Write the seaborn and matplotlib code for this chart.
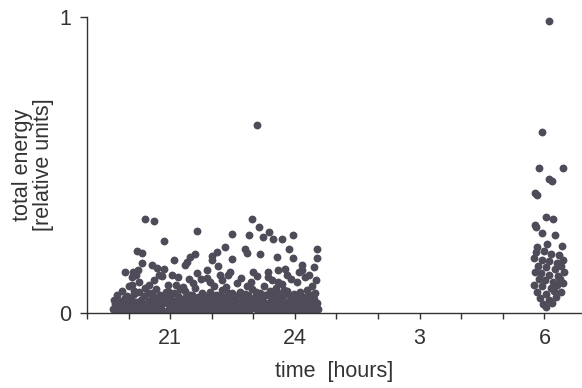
import matplotlib
matplotlib.use("Agg")
import matplotlib.pyplot as plt
import seaborn as sns
import pandas as pd
from matplotlib.ticker import FixedLocator, MultipleLocator

# --- data (time in hours, continuing past midnight: 27 = 3 h, 30 = 6 h) ---
evening_outlier_t = [20.39, 20.61, 20.85, 21.64, 22.97, 23.13, 23.38, 23.23, 23.47, 23.69,
                     23.95, 22.49, 22.89, 22.32, 22.80, 22.85, 22.13, 22.00, 22.00, 21.60,
                     21.48, 21.40, 21.36, 21.09, 20.20, 20.32, 20.32, 20.56, 20.68, 20.85,
                     19.91, 20.11, 20.23, 20.08, 20.08, 20.80, 21.88, 22.49, 23.16, 23.57,
                     23.86, 23.95, 24.17, 24.17, 24.53, 24.53, 23.59, 23.35, 22.39, 21.88,
                     23.09]
evening_outlier_e = [0.318, 0.311, 0.243, 0.277, 0.318, 0.291, 0.274, 0.257, 0.250, 0.250,
                     0.264, 0.267, 0.264, 0.223, 0.216, 0.203, 0.206, 0.193, 0.179, 0.199,
                     0.189, 0.172, 0.162, 0.179, 0.209, 0.203, 0.169, 0.162, 0.152, 0.149,
                     0.139, 0.139, 0.145, 0.122, 0.095, 0.125, 0.145, 0.182, 0.199, 0.189,
                     0.216, 0.186, 0.162, 0.145, 0.216, 0.186, 0.145, 0.139, 0.128, 0.118,
                     0.635]

evening_mid_t = [20.00, 20.25, 20.40, 20.60, 20.95, 21.20, 21.30, 21.55, 21.75, 22.05,
                 22.20, 22.60, 22.70, 22.95, 23.10, 23.25, 23.45, 23.70, 23.80, 24.05,
                 24.25, 24.40, 24.50, 21.05, 22.35, 23.60,
                 19.85, 20.18, 20.50, 20.72, 21.15, 21.45, 21.65, 21.95, 22.25, 22.45,
                 22.85, 23.00, 23.35, 23.55, 23.90, 24.10, 24.35, 24.45, 22.15, 23.75]
evening_mid_e = [0.090, 0.105, 0.085, 0.110, 0.095, 0.120, 0.088, 0.100, 0.115, 0.092,
                 0.130, 0.100, 0.118, 0.105, 0.125, 0.090, 0.110, 0.097, 0.128, 0.105,
                 0.120, 0.090, 0.110, 0.130, 0.087, 0.105,
                 0.075, 0.130, 0.095, 0.130, 0.095, 0.115, 0.135, 0.105, 0.110, 0.140,
                 0.090, 0.140, 0.120, 0.085, 0.115, 0.140, 0.130, 0.155, 0.160, 0.150]

evening_base_t = [19.62, 19.68, 19.71, 19.75, 19.80, 19.83, 19.88, 19.92, 19.95, 19.99,
                  20.03, 20.05, 20.09, 20.12, 20.15, 20.18, 20.22, 20.25, 20.28, 20.31,
                  20.35, 20.38, 20.41, 20.44, 20.47,
                  20.51, 20.54, 20.57, 20.60, 20.63, 20.66, 20.70, 20.73, 20.76, 20.79,
                  20.83, 20.86, 20.89, 20.93, 20.96,
                  21.00, 21.03, 21.06, 21.10, 21.13, 21.16, 21.19, 21.23, 21.26, 21.29,
                  21.33, 21.36, 21.40, 21.43, 21.47,
                  21.50, 21.53, 21.57, 21.60, 21.63, 21.67, 21.70, 21.73, 21.77, 21.80,
                  21.84, 21.87, 21.90, 21.94, 21.97,
                  22.01, 22.04, 22.07, 22.11, 22.14, 22.17, 22.21, 22.24, 22.27, 22.31,
                  22.34, 22.37, 22.41, 22.44, 22.48,
                  22.51, 22.54, 22.58, 22.61, 22.64, 22.68, 22.71, 22.74, 22.78, 22.81,
                  22.85, 22.88, 22.91, 22.95, 22.98,
                  23.02, 23.05, 23.08, 23.12, 23.15, 23.18, 23.22, 23.25, 23.28, 23.32,
                  23.35, 23.39, 23.42, 23.45, 23.49,
                  23.52, 23.55, 23.59, 23.62, 23.65, 23.69, 23.72, 23.75, 23.79, 23.82,
                  23.86, 23.89, 23.92, 23.96, 23.99,
                  24.02, 24.06, 24.09, 24.13, 24.16, 24.19, 24.23, 24.26, 24.30, 24.33,
                  24.37, 24.40, 24.44, 24.47, 24.51, 24.54,
                  19.65, 19.73, 19.86, 19.97, 20.07, 20.14, 20.20, 20.33, 20.39, 20.49,
                  20.56, 20.62, 20.68, 20.75, 20.81, 20.91, 20.98, 21.04, 21.11, 21.18,
                  21.24, 21.31, 21.38, 21.45, 21.52, 21.59, 21.65, 21.72, 21.79, 21.85,
                  21.92, 21.99, 22.06, 22.12, 22.19, 22.26, 22.33, 22.39, 22.46, 22.53,
                  22.60, 22.66, 22.73, 22.80, 22.87, 22.93, 23.00, 23.07, 23.14, 23.20,
                  23.27, 23.33, 23.40, 23.47, 23.54, 23.61, 23.67, 23.74, 23.80, 23.87,
                  23.94, 24.01, 24.08, 24.15, 24.21, 24.28, 24.35, 24.42, 24.49, 24.55]
evening_base_e = [0.012, 0.030, 0.005, 0.020, 0.041, 0.008, 0.026, 0.052, 0.015, 0.034,
                  0.006, 0.047, 0.022, 0.063, 0.010, 0.038, 0.028, 0.071, 0.004, 0.045,
                  0.017, 0.058, 0.031, 0.009, 0.066,
                  0.024, 0.043, 0.007, 0.055, 0.019, 0.080, 0.035, 0.012, 0.061, 0.027,
                  0.049, 0.005, 0.072, 0.033, 0.015,
                  0.052, 0.024, 0.008, 0.068, 0.039, 0.016, 0.057, 0.029, 0.004, 0.046,
                  0.021, 0.075, 0.036, 0.011, 0.060,
                  0.027, 0.044, 0.006, 0.084, 0.018, 0.053, 0.032, 0.010, 0.066, 0.040,
                  0.022, 0.058, 0.003, 0.035, 0.070,
                  0.014, 0.048, 0.028, 0.062, 0.007, 0.041, 0.020, 0.077, 0.033, 0.012,
                  0.055, 0.025, 0.045, 0.005, 0.067,
                  0.030, 0.016, 0.059, 0.038, 0.009, 0.072, 0.023, 0.050, 0.013, 0.064,
                  0.034, 0.004, 0.046, 0.026, 0.081,
                  0.018, 0.054, 0.037, 0.008, 0.069, 0.027, 0.047, 0.012, 0.061, 0.031,
                  0.005, 0.075, 0.042, 0.020, 0.056,
                  0.010, 0.039, 0.066, 0.024, 0.049, 0.006, 0.058, 0.033, 0.015, 0.073,
                  0.041, 0.021, 0.052, 0.008, 0.064,
                  0.029, 0.045, 0.013, 0.070, 0.036, 0.004, 0.055, 0.022, 0.078, 0.040,
                  0.011, 0.060, 0.027, 0.048, 0.009, 0.034,
                  0.045, 0.060, 0.003, 0.058, 0.030, 0.075, 0.002, 0.025, 0.003, 0.040,
                  0.068, 0.032, 0.002, 0.040, 0.010, 0.052, 0.070, 0.040, 0.003, 0.030,
                  0.080, 0.010, 0.055, 0.030, 0.062, 0.035, 0.003, 0.048, 0.010, 0.038,
                  0.050, 0.025, 0.002, 0.035, 0.060, 0.005, 0.040, 0.068, 0.030, 0.050,
                  0.004, 0.035, 0.002, 0.040, 0.060, 0.012, 0.040, 0.070, 0.025, 0.003,
                  0.035, 0.060, 0.010, 0.035, 0.070, 0.003, 0.030, 0.078, 0.002, 0.060,
                  0.030, 0.003, 0.062, 0.015, 0.030, 0.005, 0.058, 0.035, 0.068, 0.015]

morning_t = [29.94, 29.87, 30.44, 30.18, 30.11, 29.77, 29.82, 30.03, 30.20, 29.77,
             29.79, 29.94, 30.25, 29.82, 30.06, 30.42, 30.11,
             29.80, 30.00, 30.15, 30.35, 29.75, 29.95, 30.10, 30.30, 30.45, 29.85,
             30.05, 30.25, 30.40, 29.78, 29.92, 30.12, 30.32, 30.46, 29.88, 30.02,
             30.20, 30.38, 29.75, 29.95, 30.15, 30.30, 30.45, 29.82, 30.05, 30.22,
             30.40, 29.90, 30.10, 30.28, 29.97, 30.18, 30.05]
morning_e = [0.611, 0.490, 0.490, 0.446, 0.453, 0.405, 0.399, 0.324, 0.318, 0.297,
             0.291, 0.270, 0.264, 0.223, 0.233, 0.226, 0.986,
             0.205, 0.210, 0.200, 0.195, 0.185, 0.180, 0.175, 0.170, 0.180, 0.160,
             0.155, 0.150, 0.160, 0.140, 0.135, 0.130, 0.125, 0.140, 0.115, 0.110,
             0.105, 0.115, 0.095, 0.090, 0.085, 0.095, 0.100, 0.070, 0.065, 0.075,
             0.070, 0.050, 0.045, 0.055, 0.030, 0.035, 0.020]

x_major = [21, 24, 27, 30]
x_labels = ["21", "24", "3", "6"]
y_ticks = [0, 1]
y_labels = ["0", "1"]

df = pd.DataFrame({
    "time": evening_base_t + evening_mid_t + evening_outlier_t + morning_t,
    "energy": evening_base_e + evening_mid_e + evening_outlier_e + morning_e,
})

sns.set_style("ticks")
plt.rcParams["font.family"] = ["Liberation Sans", "DejaVu Sans"]

ink = "#333333"
dot = "#4f4b58"
fs = 15.5

fig = plt.figure(figsize=(5.82, 3.88), dpi=100)
ax = fig.add_axes([87 / 582, 75 / 388, 494 / 582, 296 / 388])

sns.scatterplot(data=df, x="time", y="energy", ax=ax, color=dot, s=32,
                linewidth=0, alpha=1.0, legend=False)

ax.set_xlim(19, 30.88)
ax.set_ylim(0, 1)
ax.xaxis.set_major_locator(FixedLocator(x_major))
ax.set_xticklabels(x_labels)
ax.xaxis.set_minor_locator(MultipleLocator(1))
ax.set_yticks(y_ticks)
ax.set_yticklabels(y_labels)

for s in ["top", "right"]:
    ax.spines[s].set_visible(False)
for s in ["left", "bottom"]:
    ax.spines[s].set_color(ink)
    ax.spines[s].set_linewidth(1.0)

ax.tick_params(axis="x", which="both", direction="out", length=4.5, width=1.0,
               color=ink, labelcolor=ink, labelsize=fs, pad=6)
ax.tick_params(axis="y", which="major", direction="out", length=5, width=1.0,
               color=ink, labelcolor=ink, labelsize=fs, pad=6)

ax.set_xlabel("time  [hours]", fontsize=fs, color=ink, labelpad=9)
ax.set_ylabel("total energy\n[relative units]", fontsize=fs, color=ink,
              labelpad=4, linespacing=1.02)

fig.savefig("out.png", dpi=100, facecolor="white")
